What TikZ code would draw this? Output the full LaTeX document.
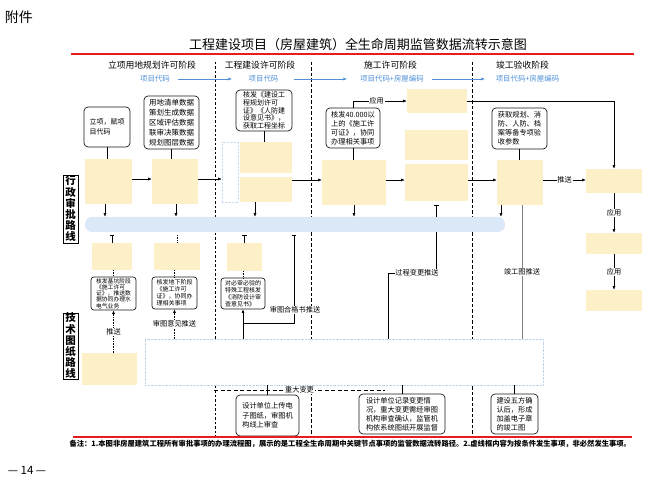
\documentclass[tikz,border=0pt]{standalone}
\usepackage{fontspec}
\setmainfont{Noto Sans CJK SC}
\usetikzlibrary{arrows.meta,calc}
\definecolor{ylw}{RGB}{253,240,200}
\definecolor{bandc}{RGB}{218,232,248}
\definecolor{phblue}{RGB}{80,145,215}
\definecolor{redl}{RGB}{232,28,28}
\definecolor{faintc}{RGB}{205,222,240}
\definecolor{bigc}{RGB}{190,212,236}
\definecolor{gline}{RGB}{130,130,130}
\newcommand{\myfs}[2]{\fontsize{#1}{#2}\selectfont}
\tikzset{
  wh/.style 2 args={minimum width=#1pt,minimum height=#2pt},
  ybox/.style={fill=ylw,draw=none,inner sep=0pt},
  call/.style={draw=black!90,line width=0.7pt,rounded corners=4pt,fill=white,inner sep=1.5pt,align=left},
  arr/.style={-{Latex[length=3.6pt,width=3pt]},line width=0.6pt},
  tbar/.style={{Bar[width=4.5pt]}-,line width=0.6pt},
  conn/.style={line width=0.6pt},
  lbl/.style={fill=white,inner sep=0.8pt,font=\myfs{7.2}{8}},
  divA/.style={line width=0.5pt,dash pattern=on 2.5pt off 2pt},
  divB/.style={line width=1pt,dash pattern=on 3.5pt off 2pt},
  routebox/.style={draw=black,line width=0.6pt,inner sep=0pt,align=center,font=\myfs{10.5}{11.2}\bfseries},
  phase/.style={font=\myfs{8.8}{10}},
  code/.style={font=\myfs{7.4}{8},text=phblue,inner sep=1pt},
}
\begin{document}
\begin{tikzpicture}[x=1pt,y=-1pt]
\useasboundingbox (0,0) rectangle (662,486);

\node[font=\myfs{14}{16}] (fj) at (19,17) {附件};
\node[font=\myfs{13}{15}] (title) at (358,45) {工程建设项目（房屋建筑）全生命周期监管数据流转示意图};
\draw[redl,line width=1.5pt] (71,54) -- (634,54);

% phase headers
\node[phase] (p1) at (152,65) {立项用地规划许可阶段};
\node[phase] (p2) at (260,65) {工程建设许可阶段};
\node[phase] (p3) at (390.5,65) {施工许可阶段};
\node[phase] (p4) at (522.5,65) {竣工验收阶段};

% dividers
\draw[divA] (215,62) -- (215,437);
\draw[divB] (311,62) -- (311,437);
\draw[divB] (472,62) -- (472,437);

% codes
\node[code] (k1) at (155,79) {项目代码};
\node[code] (k2) at (263.5,79) {项目代码};
\node[code] (k3) at (392,79) {项目代码+房屋编码};
\node[code] (k4) at (527.5,79) {项目代码+房屋编码};
\draw[arr,phblue] (k1.east -| 178,0) -- (k2.west -| 232,0);
\draw[arr,phblue] (k2.east -| 294,0) -- (k3.west -| 347,0);
\draw[arr,phblue] (k3.east -| 432,0) -- (k4.west -| 485,0);

% route labels
\node[routebox,wh={15}{68}] (rt1) at (70.5,209) {行\\政\\审\\批\\路\\线};
\node[routebox,wh={15}{66}] (rt2) at (70.5,346) {技\\术\\图\\纸\\路\\线};

% band and big box
\node[fill=bandc,rounded corners=7pt,wh={420}{15},inner sep=0pt] (band) at (295,224.5) {};
\node[draw=bigc,densely dotted,fill=white,wh={398}{46},inner sep=0pt] (big) at (344,362) {};
\node[draw=faintc,densely dotted,wh={16}{60},inner sep=0pt] (fb) at (230,172) {};

% yellow boxes
\node[ybox,wh={47}{45}] (y1) at (108.5,181.5) {};
\node[ybox,wh={46}{45}] (y2) at (175,181.5) {};
\node[ybox,wh={52}{31}] (y3a) at (266,157.5) {};
\node[ybox,wh={52}{25}] (y3b) at (266,189.5) {};
\node[ybox,wh={64}{45}] (y4) at (354,182.5) {};
\node[ybox,wh={60}{24}] (y5t) at (437,101) {};
\node[ybox,wh={63}{30}] (y5a) at (436.5,145) {};
\node[ybox,wh={63}{37}] (y5b) at (436.5,182.5) {};
\node[ybox,wh={46}{45}] (y6) at (520,182.5) {};
\node[ybox,wh={56}{24}] (r1) at (614,181) {};
\node[ybox,wh={56}{21}] (r2) at (614,243.5) {};
\node[ybox,wh={56}{21}] (r3) at (614,300.5) {};
\node[ybox,wh={40}{27}] (t1) at (112,256.5) {};
\node[ybox,wh={46}{27}] (t2) at (177,256.5) {};
\node[ybox,wh={35}{28}] (t3) at (244.5,257) {};
\node[ybox,wh={55}{32}] (t4) at (109.5,369) {};

% callouts
\node[call,wh={46}{40},font=\myfs{7}{10}] (c1) at (107,127) {立项，赋项\\目代码};
\node[call,wh={55}{53},font=\myfs{7.5}{10}] (c2) at (171.5,122.5) {用地清单数据\\策划生成数据\\区域评估数据\\联审决策数据\\规划图层数据};
\node[call,wh={56}{41},font=\myfs{7}{7.6}] (c3) at (264,110.5) {核发《建设工\\程规划许可\\证》《人防建\\设意见书》，\\获取工程坐标};
\node[call,wh={54}{40},font=\myfs{7.2}{9}] (c4) at (353,128) {核发40.000以\\上的《施工许\\可证》，协同\\办理相关事项};
\node[call,wh={55}{41},font=\myfs{7.2}{9}] (c5) at (519.5,128.5) {获取规划、消\\防、人防、档\\案等备专项验\\收参数};
\node[call,wh={45}{33},font=\myfs{5.8}{6.2},rounded corners=3pt] (tc1) at (113.5,293.5) {核发基坑阶段\\《施工许可\\证》，推送数\\据协同办理水\\电气业务};
\node[call,wh={45}{32},font=\myfs{6}{7},rounded corners=3pt] (tc2) at (174.5,293) {核发地下阶段\\《施工许可\\证》，协同办\\理相关事项};
\node[call,wh={44}{31},font=\myfs{6}{7},rounded corners=3pt] (tc3) at (243,293.5) {对必审必验的\\特殊工程核发\\《消防设计审\\查意见书》};
\node[call,wh={63}{41},font=\myfs{7.2}{9.5}] (bc1) at (267.5,415.5) {设计单位上传电\\子图纸，审图机\\构线上审查};
\node[call,wh={86}{40},font=\myfs{7.2}{9}] (bc2) at (402,414) {设计单位记录变更情\\况，重大变更需经审图\\机构审查确认，监管机\\构依系统图纸开展监督};
\node[call,wh={47}{40},font=\myfs{7.2}{9}] (bc3) at (514.5,414) {建设五方确\\认后，形成\\加盖电子章\\的竣工图};

% administrative route connectors
\draw[conn] (c1.south) -- (c1.south |- y1.north);
\draw[conn] (c2.south) -- (c2.south |- y2.north);
\draw[arr] (y1.east |- 0,179) -- (y2.west |- 0,179);
\draw[arr] (y2.east |- 0,179) -- (fb.west |- 0,179);
\draw[conn] (c3.south) -- (c3.south |- y3a.north);
\draw[arr] (y3b.east |- 0,180) -- (y4.west |- 0,180);
\draw[conn] (c4.south) -- (c4.south |- y4.north);
\draw[arr] (c4.north) |- node[lbl,pos=0.72] (l1) {应用} (y5t.west);
\draw[arr] (y4.east |- 0,180) -- (y5b.west |- 0,180);
\draw[arr] (y5b.east |- 0,180) -- (y6.west |- 0,180);
\draw[arr] (y5t.east) -| (r1.north);
\draw[conn] (c5.south) -- (c5.south |- y6.north);
\draw[arr] (y6.east |- 0,180) -- node[lbl] (l2) {推送} (r1.west |- 0,180);
\draw[arr] (r1.south) -- node[lbl] (l3) {应用} (r2.north);
\draw[arr] (r2.south) -- node[lbl] (l4) {应用} (r3.north);
\foreach \xx/\nm in {105/y1,176/y2,255/y3b,354/y4,501/y6}
  \draw[arr] (\nm.south -| \xx,0) -- (band.north -| \xx,0);
\draw[tbar] ($(y5b.south)+(0,4)$) -- (band.north -| y5b.south);

% technical route connectors
\draw[tbar] ($(band.south -| t1.north)+(0,3)$) -- (t1.north);
\draw[conn,densely dotted] ($(band.south -| t2.north)+(0,3)$) -- (t2.north);
\draw[tbar] ($(band.south -| t3.north)+(0,3)$) -- (t3.north);
\draw[conn,densely dotted] (t1.south -| tc1.north) -- (tc1.north);
\draw[conn,densely dotted] (t2.south -| tc2.north) -- (tc2.north);
\draw[conn,densely dotted] (t3.south -| tc3.north) -- (tc3.north);
\draw[arr,densely dotted] (t4.north -| tc1.south) -- node[lbl] (l5) {推送} (tc1.south);
\draw[arr,densely dotted] (big.north -| tc2.south) -- node[lbl] (l6) {审图意见推送} (tc2.south);
\draw[arr] (big.north -| tc3.south) -- (tc3.south);
\coordinate (j1) at (294,323);
\draw[tbar] ($(band.south -| j1)+(0,3)$) -- (j1) -- (tc3.south |- j1);
\node[lbl] (l7) at (295,310) {审图合格书推送};
\coordinate (j3) at (436,273);
\coordinate (j4) at (388,273);
\draw[conn] (band.south -| j3) -- (j3) -- (j4) -- (big.north -| j4);
\node[lbl] (l8) at (417,273) {过程变更推送};
\draw[gline,line width=0.8pt] (y6.south -| 522,0) -- node[lbl,text=black] (l9) {竣工图推送} (big.north -| 522,0);

% below big box
\draw[conn] (big.south -| bc1.north) -- (bc1.north);
\draw[conn] (big.south -| bc2.north) -- (bc2.north);
\draw[conn] (big.south -| bc3.north) -- (bc3.north);
\coordinate (d1) at (214,390);
\coordinate (d2) at (385,390);
\draw[line width=0.7pt,dash pattern=on 4pt off 2.5pt] (d1) -- node[lbl] (l10) {重大变更} (d2);

\draw[redl,line width=1.5pt] (73,437) -- (632,437);
\node[anchor=west,font=\myfs{7.3}{8}\bfseries] (note) at (66,444) {备注：1.本图非房屋建筑工程所有审批事项的办理流程图，展示的是工程全生命周期中关键节点事项的监管数据流转路径。2.虚线框内容为按条件发生事项，非必然发生事项。};
\node[font=\myfs{11.5}{13}] (pg) at (27,470) {— 14 —};
\end{tikzpicture}
\end{document}
